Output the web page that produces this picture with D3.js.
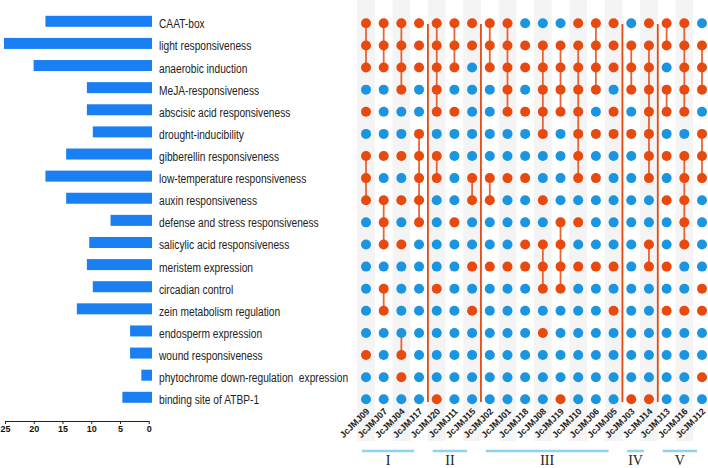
<!DOCTYPE html>
<html>
<head>
<meta charset="utf-8">
<script src="https://cdn.jsdelivr.net/npm/d3@7/dist/d3.min.js"></script>
<style>
  html, body { margin: 0; padding: 0; background: #ffffff; }
  svg { display: block; }
</style>
</head>
<body>
<script>
// ---------------- DATA ----------------
const elements = [
  "CAAT-box", "light responsiveness", "anaerobic induction", "MeJA-responsiveness",
  "abscisic acid responsiveness", "drought-inducibility", "gibberellin responsiveness",
  "low-temperature responsiveness", "auxin responsiveness", "defense and stress responsiveness",
  "salicylic acid responsiveness", "meristem expression", "circadian control",
  "zein metabolism regulation", "endosperm expression", "wound responsiveness",
  "phytochrome down-regulation  expression", "binding site of ATBP-1"
];
const elementCounts = [18, 25, 20, 11, 11, 10, 14.5, 18, 14.5, 7, 10.6, 11, 10, 12.7, 3.7, 3.7, 1.8, 5];

const genes = ["JcJMJ09", "JcJMJ07", "JcJMJ04", "JcJMJ17", "JcJMJ20", "JcJMJ11", "JcJMJ15",
  "JcJMJ02", "JcJMJ01", "JcJMJ18", "JcJMJ08", "JcJMJ19", "JcJMJ10", "JcJMJ06", "JcJMJ05",
  "JcJMJ03", "JcJMJ14", "JcJMJ13", "JcJMJ16", "JcJMJ12"];

// presence per gene (one char per element, in element order): 1 = present (red), 0 = absent (blue)
const presence = [
  "111010111000000100", // JcJMJ09
  "111000101110110000", // JcJMJ07
  "111100101010000110", // JcJMJ04
  "111001111100000000", // JcJMJ17
  "111110110000100001", // JcJMJ20
  "111010000100000000", // JcJMJ11
  "110000011001010000", // JcJMJ15
  "111000011001000000", // JcJMJ02
  "111110010001000000", // JcJMJ01
  "011010010011000000", // JcJMJ18
  "011111001011101000", // JcJMJ08
  "011110000111100001", // JcJMJ19
  "111111110101000000", // JcJMJ10
  "111101010001000000", // JcJMJ06
  "111011000001010000", // JcJMJ05
  "011101000000000001", // JcJMJ03
  "111111110011000001", // JcJMJ14
  "110110101001010000", // JcJMJ13
  "111110111110010000", // JcJMJ16
  "011101110000110010"  // JcJMJ12
];

// connecting segments per gene: [first element index, last element index]
const links = [
  [[0, 2], [6, 8]],
  [[0, 2], [8, 10], [12, 13]],
  [[0, 3], [14, 15]],
  [[5, 9]],
  [[0, 4], [6, 7]],
  [[0, 2]],
  [[7, 8]],
  [[0, 2], [7, 8]],
  [[0, 4]],
  [],
  [[1, 5], [10, 12]],
  [[1, 4], [9, 12]],
  [[1, 7]],
  [[0, 3]],
  [],
  [[1, 3]],
  [[1, 7], [10, 11]],
  [[0, 1], [3, 4]],
  [[0, 4], [6, 10]],
  [[1, 3], [5, 7]]
];

const groupNames = ["I", "II", "III", "IV", "V"];
const groupStart = [0, 4, 7, 15, 17];
const groupEnd = [3, 6, 14, 16, 19];

const axisTicks = [25, 20, 15, 10, 5, 0];

// ---------------- STYLE ----------------
const RED = "#e8490f";
const BLUE = "#1b95e0";
const BAR = "#1a7ff2";
const STRIPE = "#f4f4f4";
const GROUPLINE = "#8fd3f0";
const SANS = "'Liberation Sans', Arial, sans-serif";

const W = 708, H = 468;
const svg = d3.select("body").append("svg").attr("width", W).attr("height", H);

const xCol = d3.scalePoint().domain(genes).range([366, 702]);
const yRow = d3.scalePoint().domain(elements).range([23.3, 399.3]);
const step = xCol.step();

const xBar = d3.scaleLinear().domain([0, 25]).range([152, 4]);
const xAxisScale = d3.scaleLinear().domain([0, 25]).range([148.7, 5]);

// stripes
svg.append("g").selectAll("rect")
  .data(genes.filter((g, i) => i % 2 === 0))
  .join("rect")
  .attr("x", d => xCol(d) - step / 2)
  .attr("y", 0)
  .attr("width", step)
  .attr("height", 441)
  .attr("fill", STRIPE);

// bars
svg.append("g").selectAll("rect")
  .data(elements)
  .join("rect")
  .attr("x", (d, i) => xBar(elementCounts[i]))
  .attr("y", d => yRow(d) - 2 - 5.5)
  .attr("width", (d, i) => xBar(0) - xBar(elementCounts[i]))
  .attr("height", 11)
  .attr("fill", BAR);

// row labels (condensed like Arial Narrow)
const rowLabels = svg.append("g").selectAll("text")
  .data(elements)
  .join("text")
  .attr("x", 159)
  .attr("y", d => yRow(d) + 5)
  .attr("font-family", SANS)
  .attr("font-size", 12.5)
  .attr("fill", "#222")
  .style("white-space", "pre")
  .text(d => d);
rowLabels.each(function () {
  const L = this.getComputedTextLength();
  d3.select(this).attr("textLength", L * 0.815).attr("lengthAdjust", "spacingAndGlyphs");
});

// axis
const axisG = svg.append("g")
  .attr("transform", "translate(0,421)")
  .call(d3.axisBottom(xAxisScale).tickValues(axisTicks).tickSize(3).tickPadding(2).tickSizeOuter(0));
axisG.select(".domain").attr("stroke", "#222");
axisG.selectAll(".tick line").attr("stroke", "#222");
axisG.selectAll("text")
  .attr("font-family", SANS)
  .attr("font-weight", "bold")
  .attr("font-size", 9)
  .attr("fill", "#111");

// group separators
const sepX = groupEnd.slice(0, -1).map(e => (xCol(genes[e]) + xCol(genes[e + 1])) / 2);
svg.append("g").selectAll("line")
  .data(sepX)
  .join("line")
  .attr("x1", d => d).attr("x2", d => d)
  .attr("y1", 24).attr("y2", 402)
  .attr("stroke", RED)
  .attr("stroke-width", 1.8);

// connecting lines
const segs = [];
genes.forEach((g, gi) => links[gi].forEach(([a, b]) => segs.push({ g, a, b })));
svg.append("g").selectAll("line")
  .data(segs)
  .join("line")
  .attr("x1", d => xCol(d.g)).attr("x2", d => xCol(d.g))
  .attr("y1", d => yRow(elements[d.a])).attr("y2", d => yRow(elements[d.b]))
  .attr("stroke", RED)
  .attr("stroke-opacity", 0.85)
  .attr("stroke-width", 1.8);

// dots
const cells = [];
genes.forEach((g, gi) => elements.forEach((e, ei) => cells.push({ g, e, on: presence[gi][ei] === "1" })));
svg.append("g").selectAll("circle")
  .data(cells)
  .join("circle")
  .attr("cx", d => xCol(d.g))
  .attr("cy", d => yRow(d.e))
  .attr("r", 5)
  .attr("fill", d => d.on ? RED : BLUE);

// gene labels
svg.append("g").selectAll("text")
  .data(genes)
  .join("text")
  .attr("transform", d => `translate(${xCol(d) + 4},${412}) rotate(-45)`)
  .attr("text-anchor", "end")
  .attr("font-family", SANS)
  .attr("font-weight", "bold")
  .attr("font-size", 9)
  .attr("fill", "#222")
  .text(d => d);

// groups
const grp = svg.append("g").selectAll("g")
  .data(groupNames)
  .join("g");
grp.append("line")
  .attr("x1", (d, i) => xCol(genes[groupStart[i]]) - 4)
  .attr("x2", (d, i) => xCol(genes[groupEnd[i]]) - 5)
  .attr("y1", 451).attr("y2", 451)
  .attr("stroke", GROUPLINE)
  .attr("stroke-width", 2.5);
grp.append("text")
  .attr("x", (d, i) => (xCol(genes[groupStart[i]]) + xCol(genes[groupEnd[i]])) / 2 - 4.5)
  .attr("y", 465)
  .attr("text-anchor", "middle")
  .attr("font-family", "'Liberation Serif', 'Times New Roman', serif")
  .attr("font-size", 14)
  .attr("fill", "#222")
  .text(d => d);
</script>
</body>
</html>
